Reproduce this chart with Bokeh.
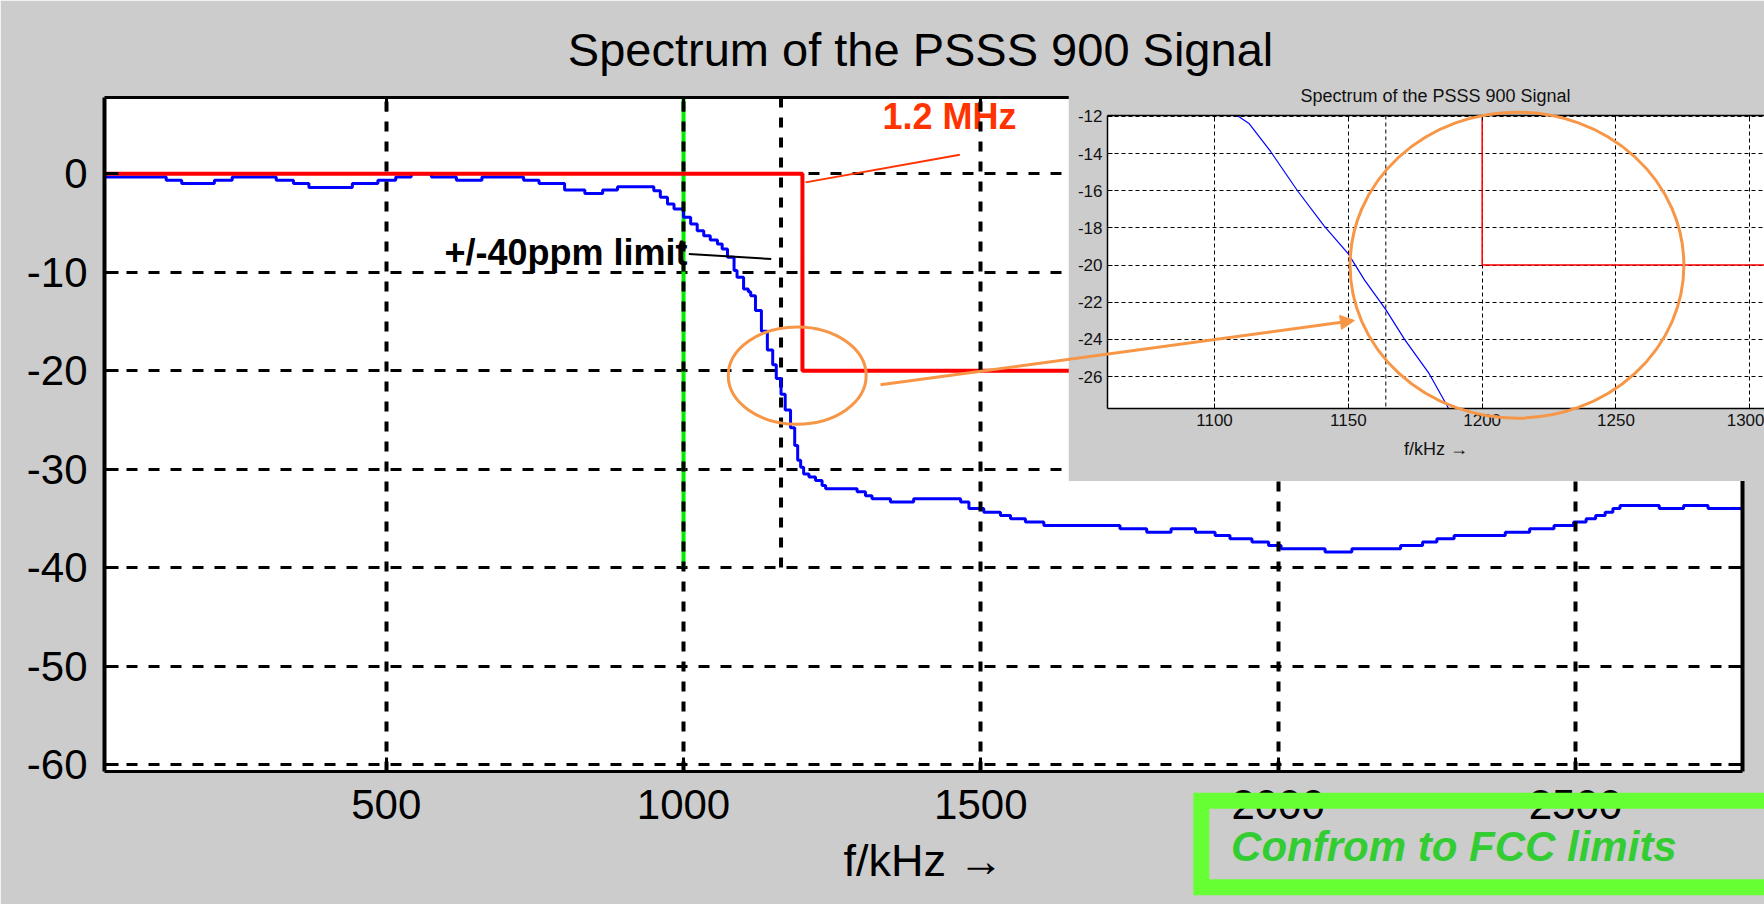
from bokeh.plotting import figure
from bokeh.models import (Range1d, LinearAxis, FixedTicker, Label, Arrow, NormalHead)
from bokeh.layouts import column
from bokeh.embed import file_html
from bokeh.resources import INLINE

# ---------------- data ----------------
# measured spectrum: start frequency of each plotted step (kHz) and its level (dB)
seg_khz = [26, 130, 156, 211, 241, 315, 344, 370, 443, 486, 516, 542, 576, 618, 661, 731, 757, 800, 834, 864, 889,
           942, 950, 961, 973, 984, 1000, 1012, 1023, 1034, 1045, 1057, 1065, 1074, 1085, 1090, 1101, 1109, 1113,
           1121, 1131, 1141, 1150, 1156, 1164, 1171, 1180, 1187, 1192, 1197, 1202, 1211, 1222, 1233,
           1239, 1292, 1306, 1317, 1348, 1387, 1466, 1480, 1505, 1533, 1550, 1575, 1606, 1734, 1779, 1820, 1861,
           1894, 1919, 1956, 1984, 2005, 2079, 2124, 2206, 2243, 2267, 2296, 2382, 2423, 2464, 2497, 2518, 2534,
           2550, 2563, 2575, 2641, 2682, 2723, 2781]
seg_db = [-0.33, -0.66, -1.0, -0.66, -0.33, -0.66, -1.0, -1.39, -1.0, -0.66, -0.33, 0.0, -0.33, -0.66, -0.33, -0.66,
          -1.0, -1.66, -2.0, -1.66, -1.32,
          -1.32, -1.72, -2.4, -3.08, -3.59, -4.43, -5.1, -5.78, -6.29, -6.73, -7.14, -7.64, -8.49, -9.84, -10.52,
          -11.7, -12.0, -12.4, -13.9, -16.0, -17.9, -19.4, -20.8, -22.4, -24.0, -25.8, -27.6, -29.1, -29.8, -30.5,
          -30.8, -31.15, -31.66,
          -32.0, -32.3, -32.7, -33.0, -33.35, -33.0, -33.35, -34.0, -34.37, -34.7, -35.04, -35.38, -35.72, -36.06,
          -36.4, -36.06, -36.4, -36.73, -37.07, -37.41, -37.75, -38.08, -38.43, -38.08, -37.75, -37.41, -37.07,
          -36.73, -36.4, -36.06, -35.72, -35.38, -35.04, -34.7, -34.37, -34.0, -33.69, -34.0, -33.69, -34.0, -34.0]

# FCC limit mask
mask_khz = [26, 1200, 1200, 2781]
mask_db = [0, 0, -20, -20]

center_khz = 1000          # green centre line
ppm_limit_khz = 1164       # +/-40 ppm limit line
marker_bottom_db = -40     # both marker lines end here

x_ticks = [500, 1000, 1500, 2000, 2500]
y_ticks = [0, -10, -20, -30, -40, -50, -60]
inset_x_ticks = [1100, 1150, 1200, 1250, 1300]
inset_y_ticks = [-12, -14, -16, -18, -20, -22, -24, -26]

# ---------------- layout / styles ----------------
GREY = "#CCCCCC"
FONT = "Liberation Sans"
ORANGE = "#F79646"
W, H = 1764, 904
MAIN_X = (26.2, 2781.0)
MAIN_Y = (-60.71, 7.74)
FRAME_L, FRAME_R, FRAME_T, FRAME_B = 104, 1742, 97, 771     # main plot frame on the page
INS_X = (1060.0, 1305.5)
INS_Y = (-27.72, -11.95)
INS_LEFT, INS_TOP, INS_W, INS_H = 1068, 80, 696, 401


def no_align(fig):
    try:
        fig.frame_align = False
    except Exception:
        pass


# ---------------- main chart ----------------
p = figure(width=W, height=H, output_backend="svg", toolbar_location=None,
           x_range=Range1d(*MAIN_X), y_range=Range1d(*MAIN_Y),
           min_border_left=FRAME_L, min_border_right=W - FRAME_R,
           min_border_top=FRAME_T, min_border_bottom=H - FRAME_B)
no_align(p)
p.add_layout(LinearAxis(), "above")
p.add_layout(LinearAxis(), "right")
p.title.text = ""
p.background_fill_color = "white"
p.border_fill_color = GREY
p.outline_line_color = None

for ax in p.xaxis:
    ax.ticker = FixedTicker(ticks=x_ticks)
    ax.axis_line_width = 3
for ax in p.yaxis:
    ax.ticker = FixedTicker(ticks=y_ticks)
    ax.axis_line_width = 4
    ax.major_label_overrides = {t: str(t) for t in y_ticks}
for ax in list(p.xaxis) + list(p.yaxis):
    ax.axis_line_color = "black"
    ax.major_tick_in = 14
    ax.major_tick_out = 0
    ax.major_tick_line_width = 3
    ax.major_tick_line_color = "black"
    ax.minor_tick_line_color = None
    ax.major_label_text_font = FONT
    ax.major_label_text_font_size = "42px"
    ax.major_label_text_color = "black"
for ax in (p.above[-1], p.right[0]):
    ax.major_label_text_font_size = "0px"
    ax.major_label_text_color = None
    ax.major_label_standoff = 0
p.below[0].major_label_standoff = 18
p.left[0].major_label_standoff = 17
p.below[0].axis_label = "f/kHz \u2192"
p.below[0].axis_label_text_font = FONT
p.below[0].axis_label_text_font_size = "45px"
p.below[0].axis_label_text_font_style = "normal"
p.below[0].axis_label_text_color = "black"
p.below[0].axis_label_standoff = 13

p.xgrid.ticker = FixedTicker(ticks=x_ticks)
p.ygrid.ticker = FixedTicker(ticks=y_ticks)
p.xgrid.grid_line_color = "black"
p.xgrid.grid_line_width = 4
p.xgrid.grid_line_dash = "10 10"
p.xgrid.level = "overlay"
p.ygrid.grid_line_color = "black"
p.ygrid.grid_line_width = 3
p.ygrid.grid_line_dash = "11 11"

p.segment(x0=center_khz, y0=MAIN_Y[1], x1=center_khz, y1=marker_bottom_db,
          line_color="#00EE00", line_width=4)
p.segment(x0=ppm_limit_khz, y0=MAIN_Y[1], x1=ppm_limit_khz, y1=marker_bottom_db,
          line_color="black", line_width=4, line_dash="10 10")
p.step(seg_khz, seg_db, mode="after", line_color="#0000FF", line_width=3)
p.line(mask_khz, mask_db, line_color="#FF0000", line_width=4)

# annotations inside the main frame
p.add_layout(Label(x=1334.6, y=5.8, text="1.2 MHz", text_font=FONT, text_font_size="36px",
                   text_font_style="bold", text_color="#FF3300", text_baseline="alphabetic"))
p.segment(x0=1205.2, y0=-0.88, x1=1464.7, y1=1.93, line_color="#FF3300", line_width=2)
p.add_layout(Label(x=598, y=-8.0, text="+/-40ppm limit", text_font=FONT, text_font_size="36px",
                   text_font_style="bold", text_color="black", text_baseline="alphabetic"))
p.segment(x0=1008.9, y0=-8.15, x1=1147.5, y1=-8.66, line_color="black", line_width=2)
p.ellipse(x=1191.2, y=-20.5, width=232, height=9.88, fill_color=None,
          line_color=ORANGE, line_width=3)

# ---------------- inset (zoom of the transition) ----------------
q = figure(width=INS_W, height=INS_H, output_backend="svg", toolbar_location=None,
           x_range=Range1d(*INS_X), y_range=Range1d(*INS_Y),
           min_border_left=39, min_border_right=0, min_border_top=35, min_border_bottom=73)
no_align(q)
q.add_layout(LinearAxis(), "above")
q.title.text = ""
q.background_fill_color = "white"
q.border_fill_color = GREY
q.outline_line_color = None

for ax in q.xaxis:
    ax.ticker = FixedTicker(ticks=inset_x_ticks)
for ax in q.yaxis:
    ax.ticker = FixedTicker(ticks=inset_y_ticks)
    ax.major_label_overrides = {t: str(t) for t in inset_y_ticks}
for ax in list(q.xaxis) + list(q.yaxis):
    ax.axis_line_color = "black"
    ax.axis_line_width = 1.5
    ax.major_tick_in = 5
    ax.major_tick_out = 0
    ax.major_tick_line_color = "black"
    ax.minor_tick_line_color = None
    ax.major_label_text_font = FONT
    ax.major_label_text_font_size = "17px"
    ax.major_label_text_color = "#111111"
    ax.major_label_standoff = 5
q.above[-1].major_label_text_font_size = "0px"
q.above[-1].major_label_text_color = None
q.above[-1].major_label_standoff = 0
q.below[0].axis_label = "f/kHz \u2192"
q.below[0].axis_label_text_font = FONT
q.below[0].axis_label_text_font_size = "18px"
q.below[0].axis_label_text_font_style = "normal"
q.below[0].axis_label_text_color = "#111111"
q.below[0].axis_label_standoff = 10

q.xgrid.ticker = FixedTicker(ticks=inset_x_ticks)
q.ygrid.ticker = FixedTicker(ticks=inset_y_ticks)
for g in (q.xgrid, q.ygrid):
    g.grid_line_color = "black"
    g.grid_line_width = 1
    g.grid_line_dash = "4 3"

q.segment(x0=ppm_limit_khz, y0=INS_Y[1], x1=ppm_limit_khz, y1=INS_Y[0],
          line_color="black", line_width=1, line_dash="4 3")
q.line(mask_khz, mask_db, line_color="#FF0000", line_width=1.5)
q.line(seg_khz, seg_db, line_color="#0000FF", line_width=1.2)

# ---------------- transparent overlay in main-chart units (whole page) ----------------
kx = (FRAME_R - FRAME_L) / (MAIN_X[1] - MAIN_X[0])
ky = (FRAME_B - FRAME_T) / (MAIN_Y[1] - MAIN_Y[0])
OV_X = (MAIN_X[0] - FRAME_L / kx, MAIN_X[1] + (W - FRAME_R) / kx)
OV_Y = (MAIN_Y[0] - (H - FRAME_B) / ky, MAIN_Y[1] + FRAME_T / ky)

r = figure(width=W, height=H, output_backend="svg", toolbar_location=None,
           x_range=Range1d(*OV_X), y_range=Range1d(*OV_Y),
           x_axis_location=None, y_axis_location=None, min_border=0)
no_align(r)
r.title.text = ""
r.grid.visible = False
r.background_fill_alpha = 0
r.border_fill_alpha = 0
r.outline_line_color = None

r.add_layout(Label(x=1398.6, y=12.6, text="Spectrum of the PSSS 900 Signal", text_font=FONT,
                   text_font_size="47px", text_color="black", text_align="center",
                   text_baseline="alphabetic"))
r.add_layout(Label(x=2264.7, y=7.9, text="Spectrum of the PSSS 900 Signal", text_font=FONT,
                   text_font_size="18px", text_color="#111111", text_align="center",
                   text_baseline="alphabetic"))
# callout ellipse around the zoomed region of the inset
r.ellipse(x=2401.7, y=-9.29, width=561.4, height=31.08, fill_color=None,
          line_color=ORANGE, line_width=3)
r.add_layout(Arrow(end=NormalHead(size=14, fill_color=ORANGE, line_color=ORANGE),
                   x_start=1331.3, y_start=-21.44, x_end=2128.4, y_end=-14.91,
                   line_color=ORANGE, line_width=3))
# green frame (open to the right, it runs off the page)
r.line(x=[3000, 1870.8, 1870.8, 3000], y=[-63.68, -63.68, -72.46, -72.46],
       line_color="#66FF33", line_width=16, line_join="miter")
r.add_layout(Label(x=1920.9, y=-68.35, text="Confrom to FCC limits", text_font=FONT,
                   text_font_size="42px", text_font_style="bold italic", text_color="#33CC33",
                   text_baseline="alphabetic"))

# stack: inset on top of main chart, overlay on top of both
q.margin = (INS_TOP - H, 0, 0, INS_LEFT)
r.margin = (-(INS_TOP + INS_H), 0, 0, 0)

layout = column(p, q, r)
open("out.html", "w").write(file_html(layout, INLINE))
